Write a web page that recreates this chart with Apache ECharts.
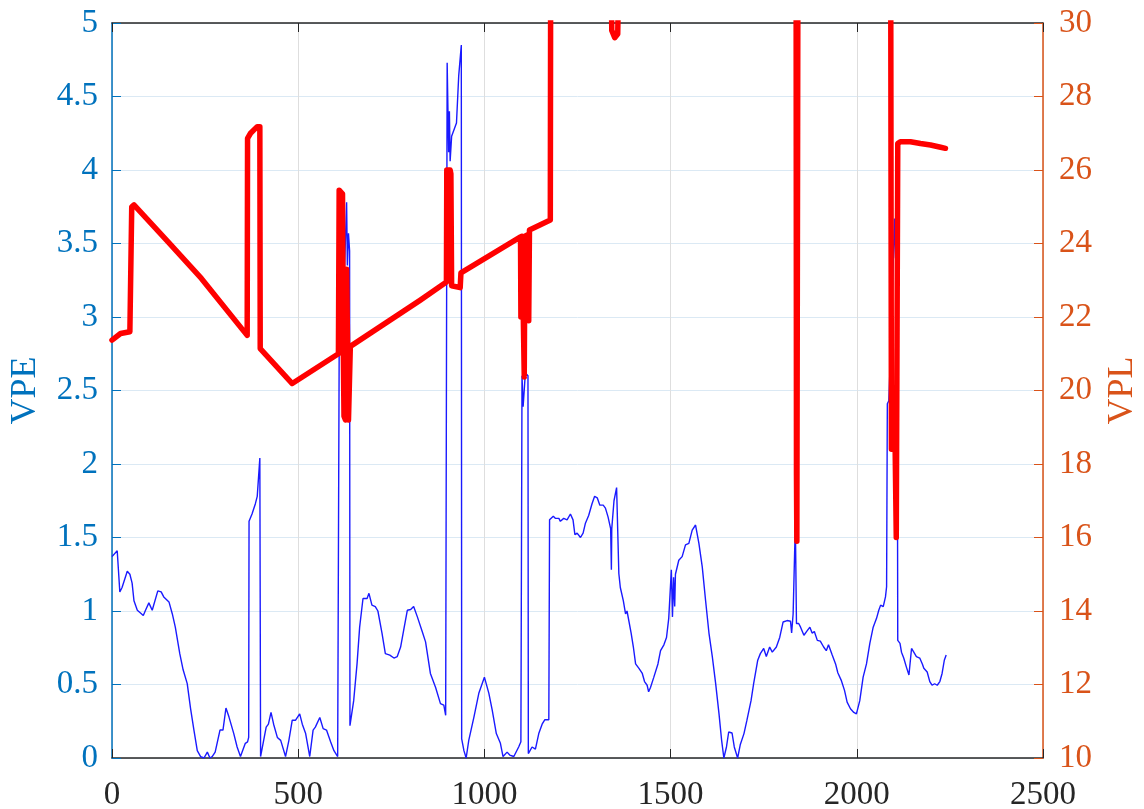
<!DOCTYPE html>
<html>
<head>
<meta charset="utf-8">
<script src="https://cdn.jsdelivr.net/npm/echarts@6/dist/echarts.min.js"></script>
<style>
  html, body { margin: 0; padding: 0; background: #fff; }
  #chart { width: 1144px; height: 809px; }
</style>
</head>
<body>
<div id="chart"></div>
<script>
// VPE (left axis) samples
const vpeX = [0, 14, 18, 21, 27, 41, 48, 54, 59, 68, 75, 84, 90, 99, 108, 112, 123, 132, 139, 153, 162, 170, 182, 191, 202, 211, 220, 229, 238, 247, 256, 263, 269, 277, 290, 298, 306, 314, 327, 336, 345, 358, 364, 367, 368, 376, 385, 390, 397, 399, 403, 414, 420, 427, 434, 444, 453, 466, 475, 484, 493, 504, 511, 520, 531, 540, 546, 558, 567, 576, 587, 596, 606, 610, 616, 624, 630, 632, 635, 638, 639, 649, 658, 665, 674, 685, 690, 698, 707, 714, 725, 734, 746, 757, 766, 775, 784, 793, 802, 810, 820, 833, 842, 855, 869, 882, 891, 896, 900, 904, 906, 908, 912, 925, 931, 938, 939, 945, 951, 958, 972, 985, 1000, 1012, 1021, 1032, 1043, 1050, 1061, 1068, 1079, 1092, 1098, 1101, 1104, 1110, 1117, 1118, 1119, 1128, 1137, 1146, 1155, 1162, 1173, 1175, 1185, 1191, 1200, 1204, 1213, 1222, 1231, 1238, 1243, 1249, 1258, 1265, 1271, 1280, 1289, 1296, 1303, 1310, 1319, 1325, 1332, 1339, 1341, 1342, 1348, 1355, 1358, 1361, 1365, 1373, 1379, 1383, 1388, 1394, 1400, 1406, 1415, 1424, 1430, 1437, 1441, 1446, 1455, 1466, 1473, 1482, 1489, 1495, 1502, 1505, 1508, 1511, 1513, 1522, 1531, 1540, 1549, 1558, 1567, 1576, 1585, 1594, 1603, 1612, 1621, 1630, 1637, 1643, 1650, 1656, 1665, 1671, 1680, 1687, 1697, 1705, 1716, 1723, 1734, 1741, 1750, 1757, 1766, 1773, 1784, 1793, 1802, 1813, 1822, 1825, 1829, 1833, 1835, 1838, 1844, 1849, 1858, 1865, 1874, 1880, 1886, 1894, 1902, 1911, 1918, 1924, 1934, 1943, 1949, 1958, 1967, 1974, 1983, 1992, 1999, 2008, 2017, 2026, 2035, 2044, 2053, 2059, 2064, 2071, 2077, 2080, 2082, 2086, 2094, 2101, 2104, 2108, 2110, 2116, 2120, 2126, 2133, 2140, 2144, 2147, 2153, 2160, 2169, 2176, 2180, 2189, 2196, 2202, 2209, 2216, 2223, 2229, 2235, 2240]
const vpeY = [1.37, 1.41, 1.41, 1.13, 1.16, 1.27, 1.25, 1.19, 1.07, 1.005, 0.99, 0.97, 1.005, 1.055, 1.005, 1.0, 1.137, 1.13, 1.096, 1.062, 0.98, 0.89, 0.71, 0.6, 0.506, 0.336, 0.19, 0.05, 0.01, 0.0, 0.04, 0.0, 0.01, 0.04, 0.19, 0.19, 0.34, 0.28, 0.166, 0.075, 0.01, 0.1, 0.11, 0.14, 1.61, 1.66, 1.73, 1.78, 2.04, 0.01, 0.01, 0.21, 0.23, 0.31, 0.23, 0.14, 0.12, 0.01, 0.12, 0.257, 0.257, 0.3, 0.23, 0.166, 0.01, 0.19, 0.21, 0.275, 0.2, 0.19, 0.11, 0.05, 0.01, 2.75, 2.9, 3.3, 3.78, 3.35, 3.57, 3.45, 0.22, 0.39, 0.64, 0.89, 1.085, 1.085, 1.12, 1.04, 1.03, 1.0, 0.85, 0.71, 0.7, 0.68, 0.69, 0.755, 0.88, 1.005, 1.01, 1.03, 0.96, 0.86, 0.79, 0.575, 0.48, 0.37, 0.36, 0.29, 4.73, 4.12, 4.4, 4.06, 4.23, 4.32, 4.64, 4.85, 0.13, 0.05, 0.0, 0.12, 0.28, 0.44, 0.55, 0.44, 0.325, 0.166, 0.1, 0.01, 0.04, 0.02, 0.01, 0.075, 0.11, 2.6, 2.39, 2.62, 2.6, 0.03, 0.04, 0.075, 0.06, 0.166, 0.23, 0.26, 0.26, 1.62, 1.645, 1.63, 1.63, 1.61, 1.63, 1.62, 1.66, 1.62, 1.52, 1.53, 1.5, 1.53, 1.595, 1.65, 1.73, 1.78, 1.77, 1.72, 1.72, 1.7, 1.64, 1.56, 1.28, 1.56, 1.75, 1.84, 1.83, 1.255, 1.16, 1.07, 0.98, 1.0, 1.0, 0.85, 0.755, 0.64, 0.61, 0.575, 0.52, 0.495, 0.45, 0.48, 0.55, 0.64, 0.73, 0.77, 0.82, 0.95, 1.28, 0.96, 1.23, 1.03, 1.25, 1.345, 1.37, 1.45, 1.46, 1.55, 1.585, 1.46, 1.3, 1.07, 0.85, 0.69, 0.506, 0.3, 0.12, 0.0, 0.075, 0.177, 0.17, 0.075, 0.0, 0.09, 0.166, 0.257, 0.39, 0.506, 0.665, 0.71, 0.745, 0.69, 0.755, 0.72, 0.755, 0.82, 0.925, 0.935, 0.93, 0.85, 0.98, 0.99, 1.6, 0.915, 0.915, 0.89, 0.835, 0.86, 0.89, 0.85, 0.86, 0.8, 0.795, 0.755, 0.73, 0.77, 0.7, 0.64, 0.58, 0.53, 0.46, 0.38, 0.335, 0.31, 0.3, 0.39, 0.55, 0.64, 0.78, 0.89, 0.95, 1.005, 1.04, 1.03, 1.096, 1.165, 2.41, 2.43, 3.0, 3.67, 3.4, 3.6, 0.8, 0.78, 0.72, 0.68, 0.62, 0.565, 0.56, 0.745, 0.72, 0.69, 0.68, 0.64, 0.61, 0.585, 0.52, 0.495, 0.505, 0.495, 0.52, 0.575, 0.665, 0.7]

// VPL (right axis) samples, values above 30 run off the top
const vplX = [0, 23, 48, 51, 53, 59, 150, 240, 363, 364, 372, 390, 397, 398, 484, 608, 610, 619, 621, 623, 627, 630, 633, 635, 638, 640, 828, 898, 899, 905, 906, 908, 910, 912, 935, 937, 1097, 1098, 1101, 1107, 1109, 1118, 1119, 1121, 1177, 1178, 1340, 1342, 1350, 1358, 1362, 1837, 1838, 1839, 1841, 1842, 2091, 2093, 2103, 2106, 2108, 2110, 2117, 2144, 2171, 2198, 2225, 2238]
const vplY = [21.37, 21.55, 21.6, 21.6, 25.0, 25.05, 24.05, 23.05, 21.5, 26.86, 27.0, 27.18, 27.18, 21.14, 20.19, 21.0, 25.45, 25.35, 21.2, 19.3, 19.2, 23.3, 23.25, 19.2, 19.2, 21.2, 22.46, 22.95, 26.0, 26.0, 23.0, 26.0, 25.9, 22.85, 22.8, 23.2, 24.18, 22.0, 24.2, 20.37, 24.2, 24.25, 21.9, 24.37, 24.64, 32, 32, 29.8, 29.6, 29.7, 32, 32, 17.7, 15.9, 15.9, 32, 32, 18.4, 18.4, 16.0, 16.0, 26.72, 26.77, 26.77, 26.72, 26.68, 26.62, 26.59]

const xTicks = [0, 500, 1000, 1500, 2000, 2500]

const blue = '#0072BD'
const orange = '#D95319'
const dark = '#262626'
const serif = 'Liberation Serif'

const chart = echarts.init(document.getElementById('chart'))

const plain = (v) => String(v)

const option = {
  animation: false,
  grid: { left: 112, right: 101, top: 23, bottom: 51, containLabel: false, outerBoundsMode: 'none' },
  xAxis: [
    {
      type: 'value',
      min: xTicks[0],
      max: xTicks[xTicks.length - 1],
      interval: 500,
      axisLine: { show: true, onZero: false, lineStyle: { color: dark, width: 1.5 } },
      axisTick: { show: true, inside: true, length: 9, lineStyle: { color: dark } },
      axisLabel: { margin: 21, color: dark, fontSize: 33, fontFamily: serif, formatter: plain },
      splitLine: { show: true, lineStyle: { color: '#dedede', width: 1 } }
    },
    {
      type: 'value',
      position: 'top',
      min: xTicks[0],
      max: xTicks[xTicks.length - 1],
      interval: 500,
      axisLine: { show: true, onZero: false, lineStyle: { color: dark, width: 1.5 } },
      axisTick: { show: true, inside: true, length: 9, lineStyle: { color: dark } },
      axisLabel: { show: false },
      splitLine: { show: false }
    }
  ],
  yAxis: [
    {
      type: 'value',
      position: 'left',
      min: 0,
      max: 5,
      interval: 0.5,
      name: 'VPE',
      nameLocation: 'middle',
      nameRotate: 90,
      nameGap: 68,
      nameTextStyle: { color: blue, fontSize: 36, fontFamily: serif },
      axisLine: { show: true, onZero: false, lineStyle: { color: blue, width: 1.5 } },
      axisTick: { show: true, inside: true, length: 9, lineStyle: { color: blue } },
      axisLabel: { margin: 14, color: blue, fontSize: 33, fontFamily: serif, formatter: plain },
      splitLine: { show: true, lineStyle: { color: '#dbe9f4', width: 1 } }
    },
    {
      type: 'value',
      position: 'right',
      min: 10,
      max: 30,
      interval: 2,
      name: 'VPL',
      nameLocation: 'middle',
      nameRotate: 90,
      nameGap: 62,
      nameTextStyle: { color: orange, fontSize: 36, fontFamily: serif },
      axisLine: { show: true, onZero: false, lineStyle: { color: orange, width: 1.5 } },
      axisTick: { show: true, inside: true, length: 9, lineStyle: { color: orange } },
      axisLabel: { margin: 16, color: orange, fontSize: 33, fontFamily: serif, formatter: plain },
      splitLine: { show: false }
    }
  ],
  series: [
    {
      name: 'VPE',
      type: 'line',
      xAxisIndex: 0,
      yAxisIndex: 0,
      showSymbol: false,
      clip: true,
      lineStyle: { color: '#1a1aff', width: 1.4 },
      data: vpeX.map((x, i) => [x, vpeY[i]])
    },
    {
      name: 'VPL',
      type: 'line',
      xAxisIndex: 0,
      yAxisIndex: 1,
      showSymbol: false,
      clip: true,
      lineStyle: { color: '#ff0000', width: 5.5, cap: 'round', join: 'round' },
      data: vplX.map((x, i) => [x, vplY[i]])
    }
  ]
}

chart.setOption(option)
</script>
</body>
</html>
